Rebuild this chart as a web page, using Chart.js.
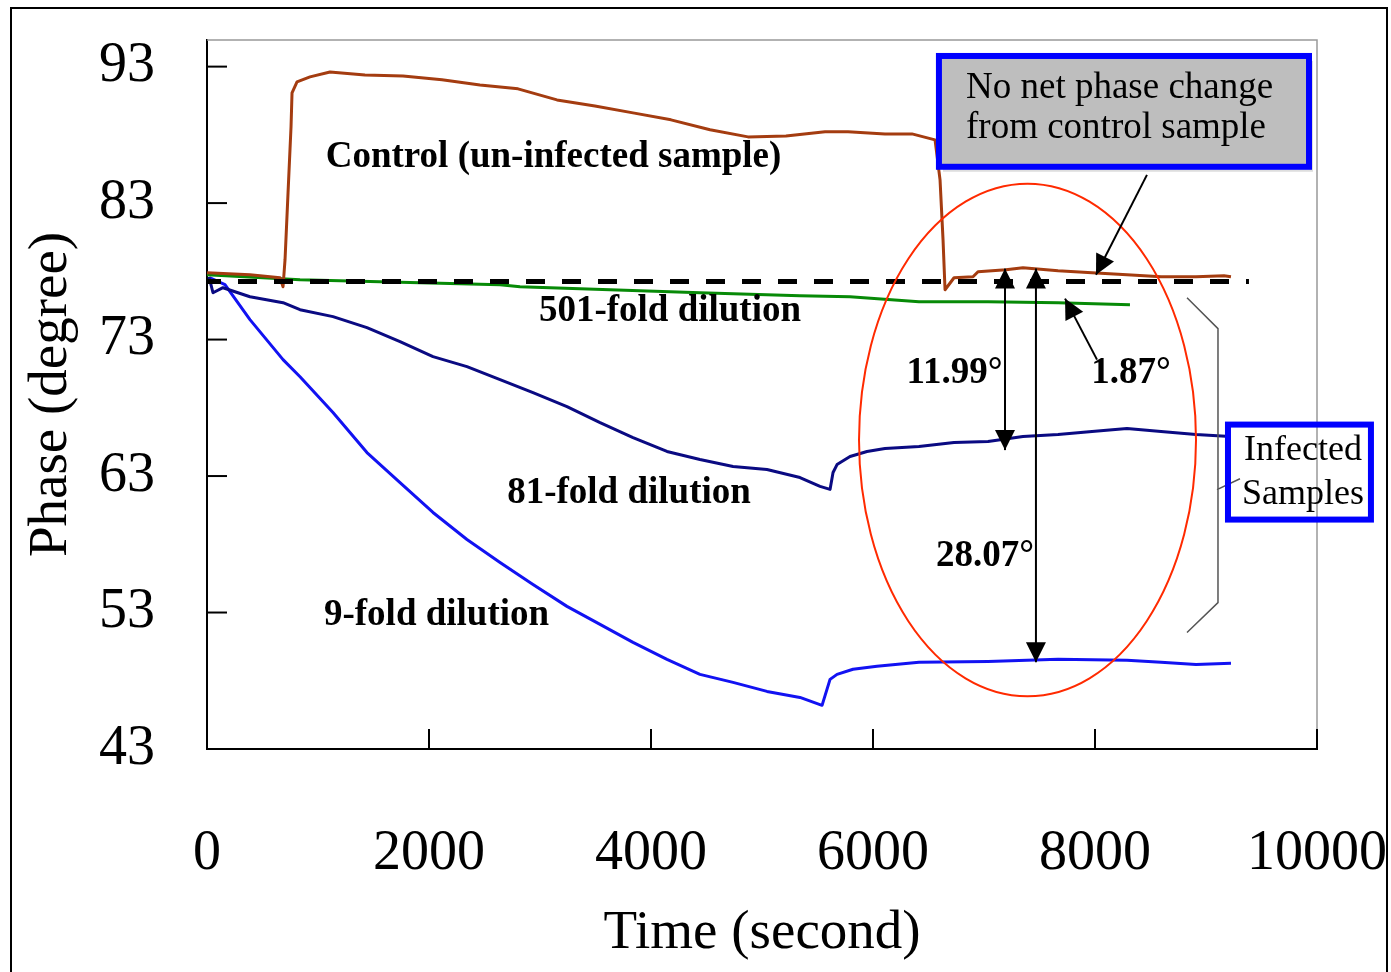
<!DOCTYPE html>
<html>
<head>
<meta charset="utf-8">
<title>Phase vs Time</title>
<script src="https://cdn.jsdelivr.net/npm/chart.js@4.4.1/dist/chart.umd.min.js"></script>
<style>
  html, body { margin: 0; padding: 0; background: #fff; }
  #wrap { position: relative; width: 1391px; height: 972px; }
  #frame { position: absolute; left: 10px; top: 7px; width: 1374px; height: 963px; border: 2px solid #000; pointer-events: none; }
</style>
</head>
<body>
<div id="wrap">
  <canvas id="phaseChart" width="1391" height="972"></canvas>
  <div id="frame"></div>
</div>
<script>
// Control (un-infected sample)
const timeControl = [0, 387, 658, 685, 703, 730, 757, 766, 811, 928, 1108, 1423, 1766, 2117, 2459, 2802, 3153, 3495, 3838, 4180,
                     4532, 4874, 5216, 5568, 5775, 6108, 6351, 6559, 6604, 6631, 6649, 6730, 6901, 6946, 7198, 7351, 7667, 7973, 8288, 8595,
                     8910, 9162, 9225];
const phaseControl = [77.90, 77.75, 77.53, 76.87, 78.85, 83.75, 88.59, 91.07, 91.88, 92.25, 92.61, 92.39, 92.32, 92.03, 91.66, 91.37, 90.56, 90.12, 89.61, 89.10,
                      88.37, 87.85, 87.92, 88.22, 88.22, 88.07, 88.07, 87.63, 84.70, 80.31, 76.65, 77.53, 77.60, 77.97, 78.11, 78.26, 78.04, 77.90, 77.75, 77.60,
                      77.60, 77.68, 77.60];

// 501-fold dilution
const time501 = [0, 838, 2640, 2820, 4441, 5342, 5793, 6414, 7036, 7667, 8315];
const phase501 = [77.75, 77.38, 77.02, 76.87, 76.43, 76.21, 76.14, 75.77, 75.77, 75.70, 75.55];

// 81-fold dilution
const time81 = [18, 54, 144, 387, 685, 838, 1135, 1441, 1739, 2036, 2342, 2640, 2937, 3243, 3541, 3838, 4144, 4441, 4739, 5045,
                5342, 5523, 5613, 5640, 5676, 5793, 5946, 6108, 6414, 6730, 7036, 7351, 7667, 7973, 8288, 8595, 8910, 9216];
const phase81 = [77.6, 76.43, 76.80, 76.14, 75.70, 75.19, 74.68, 73.87, 72.85, 71.75, 71.02, 70.07, 69.12, 68.09, 66.92, 65.82, 64.80, 64.21, 63.70, 63.48,
                 62.89, 62.24, 62.02, 63.26, 63.84, 64.43, 64.80, 65.02, 65.16, 65.46, 65.53, 65.90, 66.04, 66.26, 66.48, 66.26, 66.04, 65.90];

// 9-fold dilution
const time9 = [27, 162, 387, 685, 838, 1135, 1441, 1739, 2036, 2342, 2640, 2937, 3243, 3541, 3838, 4144, 4441, 4739, 5045, 5342,
               5541, 5613, 5676, 5820, 6036, 6414, 7036, 7667, 8288, 8595, 8910, 9225];
const phase9 = [77.53, 77.02, 74.46, 71.53, 70.28, 67.65, 64.72, 62.52, 60.33, 58.35, 56.67, 55.06, 53.45, 52.13, 50.81, 49.57, 48.47, 47.88, 47.22, 46.78,
                46.20, 48.10, 48.47, 48.84, 49.06, 49.35, 49.42, 49.57, 49.50, 49.35, 49.20, 49.28];

// reference level (dashed)
const timeRef = [0, 9387];
const phaseRef = [77.26, 77.26];

const xTicks = [0, 2000, 4000, 6000, 8000, 10000];
const yTicks = [43, 53, 63, 73, 83, 93];

const serif = '"Liberation Serif", "Times New Roman", serif';

function pts(xs, ys) {
    return xs.map((t, i) => ({ x: t, y: ys[i] }));
}

function arrowHead(ctx, x1, y1, x2, y2) {
    const ang = Math.atan2(y2 - y1, x2 - x1);
    const len = 20, half = 10;
    const bx = x2 - len * Math.cos(ang), by = y2 - len * Math.sin(ang);
    ctx.beginPath();
    ctx.moveTo(x2, y2);
    ctx.lineTo(bx + half * Math.sin(ang), by - half * Math.cos(ang));
    ctx.lineTo(bx - half * Math.sin(ang), by + half * Math.cos(ang));
    ctx.closePath();
    ctx.fill();
}

// notes, boxes, arrows, ellipse and the inner tick marks
const figureNotes = {
    id: 'figureNotes',
    afterDraw(chart) {
        const { ctx, chartArea: a, scales: { x, y } } = chart;
        const X = v => x.getPixelForValue(v);
        const Y = v => y.getPixelForValue(v);
        ctx.save();

        // top and right edges of the plot
        ctx.strokeStyle = '#999';
        ctx.lineWidth = 1.5;
        ctx.beginPath();
        ctx.moveTo(a.left, a.top);
        ctx.lineTo(a.right, a.top);
        ctx.lineTo(a.right, a.bottom);
        ctx.stroke();

        // ticks pointing inward
        ctx.strokeStyle = '#000';
        ctx.lineWidth = 2;
        yTicks.slice(1).forEach(v => {
            ctx.beginPath(); ctx.moveTo(a.left, Y(v)); ctx.lineTo(a.left + 20, Y(v)); ctx.stroke();
        });
        xTicks.slice(1).forEach(v => {
            ctx.beginPath(); ctx.moveTo(X(v), a.bottom); ctx.lineTo(X(v), a.bottom - 20); ctx.stroke();
        });

        // red ellipse
        ctx.strokeStyle = '#ff2a00';
        ctx.lineWidth = 2;
        ctx.beginPath();
        ctx.ellipse(X(7392), Y(65.64), X(7392 + 1518) - X(7392), Y(65.64 - 18.78) - Y(65.64), 0, 0, Math.PI * 2);
        ctx.stroke();

        // bracket for infected samples
        ctx.strokeStyle = '#555';
        ctx.lineWidth = 1.5;
        ctx.beginPath();
        ctx.moveTo(X(8829), Y(76.07));
        ctx.lineTo(X(9108), Y(73.8));
        ctx.lineTo(X(9108), Y(53.73));
        ctx.lineTo(X(8829), Y(51.54));
        ctx.moveTo(X(9099), Y(62.0));
        ctx.lineTo(X(9306), Y(62.8));
        ctx.stroke();

        // arrows
        ctx.strokeStyle = '#000';
        ctx.fillStyle = '#000';
        ctx.lineWidth = 2;
        const lines = [
            [7189, 78.2, 7189, 64.9, true],
            [7468, 78.2, 7468, 49.35, true],
            [8468, 85.07, 8009, 77.75, false],
            [8018, 71.53, 7730, 76.0, false]
        ];
        lines.forEach(([t1, p1, t2, p2, both]) => {
            const x1 = X(t1), y1 = Y(p1), x2 = X(t2), y2 = Y(p2);
            ctx.beginPath(); ctx.moveTo(x1, y1); ctx.lineTo(x2, y2); ctx.stroke();
            arrowHead(ctx, x1, y1, x2, y2);
            if (both) arrowHead(ctx, x2, y2, x1, y1);
        });

        // grey callout box
        const bx1 = X(6594), bx2 = X(9928), by1 = Y(93.78), by2 = Y(85.66);
        ctx.fillStyle = '#dedede';
        ctx.fillRect(bx1 + 4, by1 + 5, bx2 - bx1, by2 - by1);
        ctx.fillStyle = '#bebebe';
        ctx.fillRect(bx1, by1, bx2 - bx1, by2 - by1);
        ctx.strokeStyle = '#0000ff';
        ctx.lineWidth = 6;
        ctx.strokeRect(bx1, by1, bx2 - bx1, by2 - by1);

        // infected samples box
        const ix1 = X(9198), ix2 = X(10486), iy1 = Y(66.77), iy2 = Y(59.81);
        ctx.strokeRect(ix1, iy1, ix2 - ix1, iy2 - iy1);

        // text
        ctx.fillStyle = '#000';
        ctx.textBaseline = 'middle';
        ctx.textAlign = 'left';
        ctx.font = '37px ' + serif;
        ctx.fillText('No net phase change', X(6838), Y(91.44));
        ctx.fillText('from control sample', X(6838), Y(88.51));

        ctx.textAlign = 'center';
        ctx.font = '36px ' + serif;
        ctx.fillText('Infected', X(9874), Y(64.87));
        ctx.fillText('Samples', X(9874), Y(61.65));

        ctx.font = 'bold 37px ' + serif;
        const notes = [
            ['Control (un-infected sample)', 3122, 86.32],
            ['501-fold dilution', 4171, 75.04],
            ['81-fold dilution', 3802, 61.72],
            ['9-fold dilution', 2068, 52.79],
            ['11.99°', 6734, 70.5],
            ['1.87°', 8324, 70.5],
            ['28.07°', 7009, 57.1]
        ];
        notes.forEach(([txt, t, p]) => ctx.fillText(txt, X(t), Y(p)));

        ctx.restore();
    }
};

const ctx = document.getElementById('phaseChart').getContext('2d');
new Chart(ctx, {
    type: 'line',
    data: {
        datasets: [
            {
                label: 'reference',
                data: pts(timeRef, phaseRef),
                borderColor: '#000',
                borderWidth: 5,
                borderDash: [19, 17],
                borderDashOffset: 5,
                borderCapStyle: 'butt'
            },
            {
                label: 'Control (un-infected sample)',
                data: pts(timeControl, phaseControl),
                borderColor: '#a43c10',
                borderWidth: 3
            },
            {
                label: '501-fold dilution',
                data: pts(time501, phase501),
                borderColor: '#078a07',
                borderWidth: 3
            },
            {
                label: '81-fold dilution',
                data: pts(time81, phase81),
                borderColor: '#0a0a82',
                borderWidth: 3
            },
            {
                label: '9-fold dilution',
                data: pts(time9, phase9),
                borderColor: '#1212f2',
                borderWidth: 3
            }
        ]
    },
    options: {
        responsive: false,
        animation: false,
        events: [],
        devicePixelRatio: 1,
        layout: { padding: { top: 40, right: 74, bottom: 0, left: 0 } },
        elements: {
            point: { radius: 0 },
            line: { tension: 0, fill: false, borderJoinStyle: 'round' }
        },
        plugins: {
            legend: { display: false },
            tooltip: { enabled: false }
        },
        scales: {
            x: {
                type: 'linear',
                min: 0,
                max: 10000,
                grid: { display: false, drawTicks: false },
                border: { display: true, color: '#000', width: 2 },
                ticks: {
                    color: '#000',
                    font: { family: serif, size: 56 },
                    padding: 72,
                    maxRotation: 0,
                    autoSkip: false,
                    callback: v => String(v)
                },
                title: {
                    display: true,
                    text: 'Time (second)',
                    color: '#000',
                    font: { family: serif, size: 55 },
                    padding: { top: 0, bottom: 5 }
                },
                afterBuildTicks: s => { s.ticks = xTicks.map(v => ({ value: v })); },
                afterFit: s => { s.height = 223; s.paddingLeft = 0; s.paddingRight = 0; }
            },
            y: {
                type: 'linear',
                min: 43,
                max: 94.95,
                grid: { display: false, drawTicks: false },
                border: { display: true, color: '#000', width: 2 },
                ticks: {
                    color: '#000',
                    font: { family: serif, size: 56 },
                    padding: 52,
                    autoSkip: false,
                    callback: v => String(v)
                },
                title: {
                    display: true,
                    text: 'Phase (degree)',
                    color: '#000',
                    font: { family: serif, size: 55 },
                    padding: { top: 19, bottom: 0 }
                },
                afterBuildTicks: s => { s.ticks = yTicks.map(v => ({ value: v })); },
                afterFit: s => { s.width = 207; s.paddingTop = 0; s.paddingBottom = 0; }
            }
        }
    },
    plugins: [figureNotes]
});
</script>
</body>
</html>
